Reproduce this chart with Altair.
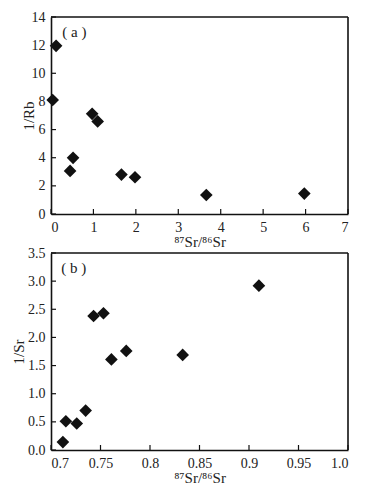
import altair as alt
import pandas as pd

# panel (a)
a_x = [0.04, 0.12, 0.45, 0.52, 0.97, 1.10, 1.66, 1.98, 3.66, 5.97]
a_y = [8.10, 11.95, 3.06, 3.99, 7.12, 6.58, 2.80, 2.61, 1.35, 1.45]
a_xticks = [0, 1, 2, 3, 4, 5, 6, 7]
a_yticks = [0, 2, 4, 6, 8, 10, 12, 14]

# panel (b)
b_x = [0.712, 0.715, 0.726, 0.735, 0.743, 0.753, 0.761, 0.776, 0.833, 0.910]
b_y = [0.14, 0.51, 0.47, 0.70, 2.38, 2.43, 1.61, 1.76, 1.69, 2.92]
b_xticks = [0.7, 0.75, 0.8, 0.85, 0.9, 0.95, 1.0]
b_yticks = [0.0, 0.5, 1.0, 1.5, 2.0, 2.5, 3.0, 3.5]

W, H = 297, 197
FONT = "Liberation Serif"
XTITLE = "⁸⁷Sr/⁸⁶Sr"
INK = "#111111"


def panel(xs, ys, xdom, ydom, xticks, yticks, ytitle, xlabelexpr, yfmt,
          tag, tagx, tagy, ytitlex):
    pts = pd.DataFrame({"x": xs, "y": ys})
    xs_ = alt.Scale(domain=xdom, nice=False, zero=False)
    ys_ = alt.Scale(domain=ydom, nice=False, zero=False)
    xaxis = alt.Axis(values=xticks, title=XTITLE, labelExpr=xlabelexpr,
                     titlePadding=0, labelOverlap=False)
    yaxis = alt.Axis(values=yticks, title=ytitle, format=yfmt,
                     titleX=ytitlex, titleY=H / 2, titleBaseline="middle",
                     titleAngle=-90, labelOverlap=False, tickCount=len(yticks))
    points = alt.Chart(pts).mark_point(
        shape="diamond", filled=True, size=160, color=INK, opacity=1
    ).encode(
        x=alt.X("x:Q", scale=xs_, axis=xaxis),
        y=alt.Y("y:Q", scale=ys_, axis=yaxis),
    )
    xt = alt.Chart(pd.DataFrame({"x": xticks})).mark_rule(
        color=INK, strokeWidth=1.2
    ).encode(
        x=alt.X("x:Q", scale=xs_),
        y=alt.value(H),
        y2=alt.value(H - 5),
    )
    yt = alt.Chart(pd.DataFrame({"y": yticks})).mark_rule(
        color=INK, strokeWidth=1.2
    ).encode(
        y=alt.Y("y:Q", scale=ys_),
        x=alt.value(0),
        x2=alt.value(5),
    )
    top = alt.Chart(pd.DataFrame({"k": [0]})).mark_rule(
        color=INK, strokeWidth=1.6
    ).encode(x=alt.value(0), x2=alt.value(W), y=alt.value(0))
    right = alt.Chart(pd.DataFrame({"k": [0]})).mark_rule(
        color=INK, strokeWidth=1.6
    ).encode(x=alt.value(W), y=alt.value(0), y2=alt.value(H))
    lab = alt.Chart(pd.DataFrame({"x": [tagx], "y": [tagy], "t": [tag]})).mark_text(
        font=FONT, fontSize=15, color="#222222"
    ).encode(
        x=alt.X("x:Q", scale=xs_),
        y=alt.Y("y:Q", scale=ys_),
        text="t:N",
    )
    return alt.layer(points, xt, yt, top, right, lab).properties(width=W, height=H)


pa = panel(a_x, a_y, [0, 7], [0, 14], a_xticks, a_yticks, "1/Rb",
           "format(datum.value, 'd')", "d", "( a )", 0.55, 12.9, -23)
pb = panel(b_x, b_y, [0.7, 1.0], [0, 3.5], b_xticks, b_yticks, "1/Sr",
           "datum.value == 1 ? '1.0' : format(datum.value, '~g')", ".1f",
           "( b )", 0.723, 3.23, -33)

chart = alt.vconcat(pa, pb, spacing=39, bounds="flush").properties(
    background="white",
    padding={"left": 3, "top": 2, "right": 5, "bottom": 5},
).configure_view(
    stroke=None
).configure_axis(
    labelFont=FONT, labelFontSize=14, labelColor="#222222",
    titleFont=FONT, titleFontSize=15, titleFontWeight="normal", titleColor="#222222",
    ticks=False, domain=True, domainColor=INK, domainWidth=1.6,
    grid=False, labelPadding=6, labelOverlap=False,
)

chart.save("out.html", embed_options={"renderer": "svg", "actions": False})
